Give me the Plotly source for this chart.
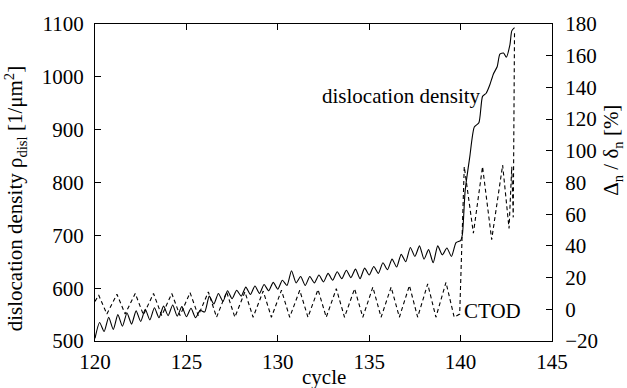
import plotly.graph_objects as go

# dislocation density (left axis)
rho_cycle = [120.00,120.25,120.50,120.75,121.00,121.25,121.50,121.75,122.00,122.25,122.50,122.75,
             123.00,123.25,123.50,123.75,124.00,124.25,124.50,124.75,125.00,125.25,125.50,125.75,
             126.00,126.25,126.50,126.75,127.00,127.25,127.50,127.75,128.00,128.25,128.50,128.75,
             129.00,129.25,129.50,129.75,130.00,130.25,130.50,130.75,131.00,131.25,131.50,131.75,
             132.00,132.25,132.50,132.75,133.00,133.25,133.50,133.75,134.00,134.25,134.50,134.75,
             135.00,135.25,135.50,135.75,136.00,136.25,136.50,136.75,137.00,137.25,137.50,137.75,
             138.00,138.25,138.50,138.75,139.00,139.25,139.50,139.75,140.00,140.10,140.25,140.50,
             140.75,141.00,141.20,141.40,141.60,141.80,142.00,142.15,142.35,142.50,142.70,142.80,142.95]
rho_values = [505,535,518,545,522,550,528,553,532,557,537,560,
              540,563,544,566,548,568,547,565,546,562,544,558,
              555,585,570,590,575,595,580,596,585,602,588,604,
              590,607,595,611,598,615,605,633,610,622,605,622,
              610,625,612,628,615,631,618,634,620,636,618,638,
              625,641,628,648,635,655,640,664,650,677,660,680,
              655,673,648,680,663,676,660,686,690,702,785,848,
              905,913,963,969,985,1006,1019,1043,1045,1037,1061,1087,1093]

# CTOD (right axis, %)
ctod_cycle = [120.0,120.2,120.65,121.2,121.65,122.2,122.65,123.2,123.65,124.2,124.65,125.2,125.65,
              126.2,126.65,127.2,127.65,128.2,128.65,129.2,129.65,130.2,130.65,131.2,131.65,
              132.2,132.65,133.2,133.65,134.2,134.65,135.2,135.65,136.2,136.65,137.2,137.65,
              138.2,138.65,139.2,139.65,139.95,140.2,140.7,141.2,141.7,142.3,142.65,142.8,142.88,142.95]
ctod_values = [5,9,-3,9.5,-3,10,-3.5,10,-4,10,-4,10.5,-4,
               11,-5,11,-5,11,-5,11.5,-5,12,-5,12,-5,
               12.5,-5,13,-5,13,-5,14,-5,14,-5,15,-5,
               16,-5,17,-5,-3,90,48,90,44,91,51,90,58,176]

x_ticks = [120, 125, 130, 135, 140, 145]
y_ticks = [500, 600, 700, 800, 900, 1000, 1100]
y2_ticks = [-20, 0, 20, 40, 60, 80, 100, 120, 140, 160, 180]

FONT = "Liberation Serif"
FS = 21

fig = go.Figure()
fig.add_trace(go.Scatter(x=rho_cycle, y=rho_values, mode="lines",
                         line=dict(color="black", width=1.1, shape="spline", smoothing=0.6),
                         showlegend=False))
fig.add_trace(go.Scatter(x=ctod_cycle, y=ctod_values, mode="lines", yaxis="y2",
                         line=dict(color="black", width=1.1, dash="4px,3px"), showlegend=False))

axis_common = dict(showgrid=False, zeroline=False, showline=True, linecolor="black", linewidth=1,
                   ticks="inside", ticklen=6, tickcolor="black",
                   tickfont=dict(family=FONT, size=FS, color="black"))

fig.update_layout(
    width=627, height=388,
    margin=dict(l=95, r=75, t=16, b=47),
    paper_bgcolor="white", plot_bgcolor="white",
    font=dict(family=FONT, size=FS, color="black"),
    xaxis=dict(range=[120, 145], tickvals=x_ticks, mirror="ticks", ticklabelstandoff=2, **axis_common),
    yaxis=dict(range=[500, 1100], tickvals=y_ticks, ticklabelstandoff=6, **axis_common),
    yaxis2=dict(range=[-20, 180], tickvals=y2_ticks, overlaying="y", side="right",
                ticklabelstandoff=8, **axis_common),
    annotations=[
        dict(text="dislocation density", x=141.2, y=963, xref="x", yref="y",
             xanchor="right", yanchor="middle", showarrow=False,
             font=dict(family=FONT, size=FS, color="black")),
        dict(text="CTOD", x=140.08, y=557, xref="x", yref="y",
             xanchor="left", yanchor="middle", showarrow=False,
             font=dict(family=FONT, size=FS, color="black")),
        dict(text="cycle", x=0.5, y=0, xref="paper", yref="paper",
             xanchor="center", yanchor="top", yshift=-22, showarrow=False,
             font=dict(family=FONT, size=FS, color="black")),
        dict(text="dislocation density ρ<sub>disl</sub> [1/μm<sup>2</sup>]", x=0, y=0.45,
             xref="paper", yref="paper", xshift=-80, textangle=-90,
             xanchor="center", yanchor="middle", showarrow=False,
             font=dict(family=FONT, size=FS, color="black")),
        dict(text="Δ<sub>n</sub> / δ<sub>n</sub> [%]", x=1, y=0.6,
             xref="paper", yref="paper", xshift=60, textangle=-90,
             xanchor="center", yanchor="middle", showarrow=False,
             font=dict(family=FONT, size=FS, color="black")),
    ],
)

fig.write_html("out.html")
